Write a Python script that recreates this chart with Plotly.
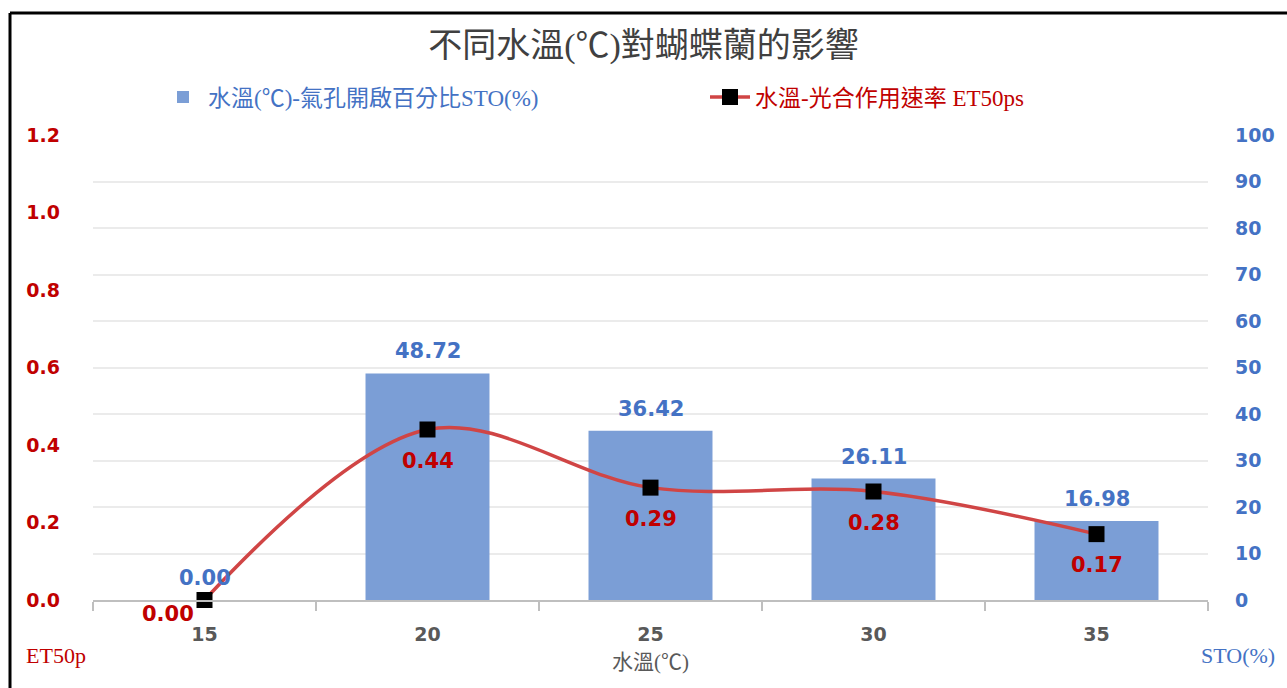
import plotly.graph_objects as go

categories = ["15", "20", "25", "30", "35"]
sto_values = [0.00, 48.72, 36.42, 26.11, 16.98]
et50_values = [0.00, 0.44, 0.29, 0.28, 0.17]
left_ticks = [0.0, 0.2, 0.4, 0.6, 0.8, 1.0, 1.2]
right_ticks = [0, 10, 20, 30, 40, 50, 60, 70, 80, 90, 100]

title_text = "不同水溫(℃)對蝴蝶蘭的影響"
bar_name = "水溫(℃)-氣孔開啟百分比STO(%)"
line_name = "水溫-光合作用速率 ET50ps"
x_title = "水溫(℃)"
left_title = "ET50p"
right_title = "STO(%)"

BLUE = "#4472C4"
RED = "#C00000"
BAR = "#7B9ED6"
LINE = "#D04545"
SERIF = "Liberation Serif, Noto Sans CJK TC, serif"
SANS = "DejaVu Sans, Verdana, sans-serif"

W, H = 1287, 688
L, R, T, B = 93, 1208, 135, 600

def px(x):
    return (x - L) / (R - L)

def py(y):
    return (B - y) / (B - T)

fig = go.Figure()

fig.add_trace(go.Bar(
    x=categories, y=sto_values, yaxis="y",
    name=f'<span style="color:{BLUE}">{bar_name}</span>',
    marker=dict(color=BAR, line=dict(width=0)),
    width=0.556,
    cliponaxis=False,
))

fig.add_trace(go.Scatter(
    x=categories, y=et50_values, yaxis="y2",
    name=f'<span style="color:{RED}">{line_name}</span>',
    mode="lines+markers",
    line=dict(color=LINE, width=3.5, shape="spline", smoothing=1.0),
    marker=dict(symbol="square", size=16, color="black"),
    cliponaxis=False,
))

annotations = []
for i, v in enumerate(sto_values):
    annotations.append(dict(
        text=f"{v:.2f}", x=i, y=v, xref="x", yref="y",
        yshift=22, showarrow=False, xanchor="center", yanchor="middle",
        font=dict(family=SANS, size=21, color=BLUE, weight="bold"),
    ))
for i, v in enumerate(et50_values):
    annotations.append(dict(
        text=f"{v:.2f}", x=i, y=v, xref="x", yref="y2",
        xshift=-37 if i == 0 else 0, yshift=-14 if i == 0 else -31,
        showarrow=False, xanchor="center", yanchor="middle",
        font=dict(family=SANS, size=21, color=RED, weight="bold"),
    ))

annotations += [
    dict(text=x_title, xref="paper", yref="paper", x=px(650), y=py(662),
         xanchor="center", yanchor="middle", showarrow=False,
         font=dict(family=SERIF, size=21, color="#595959")),
    dict(text=left_title, xref="paper", yref="paper", x=px(24), y=py(655),
         xanchor="left", yanchor="middle", showarrow=False,
         font=dict(family=SERIF, size=22, color=RED)),
    dict(text=right_title, xref="paper", yref="paper", x=px(1199), y=py(655),
         xanchor="left", yanchor="middle", showarrow=False,
         font=dict(family=SERIF, size=22, color=BLUE)),
]

fig.update_layout(
    width=W, height=H,
    margin=dict(l=L, r=W - R, t=T, b=H - B, pad=0),
    paper_bgcolor="white", plot_bgcolor="white",
    title=dict(
        text=title_text, x=0.5, xanchor="center",
        y=1 - 45 / H, yanchor="middle",
        font=dict(family=SERIF, size=34, color="#404040"),
    ),
    legend=dict(
        orientation="h", x=px(158), xanchor="left",
        y=py(97), yanchor="middle",
        font=dict(family=SERIF, size=23),
        bgcolor="rgba(0,0,0,0)",
        itemwidth=40, entrywidth=492, entrywidthmode="pixels",
        traceorder="normal",
    ),
    xaxis=dict(
        type="category", range=[-0.5, 4.5],
        showline=True, linecolor="#BFBFBF", linewidth=1.5,
        ticks="outside", tickson="boundaries", ticklen=9, tickcolor="#BFBFBF",
        tickwidth=1.5,
        tickfont=dict(family=SANS, size=19, color="#595959", weight="bold"),
        ticklabelstandoff=16,
        showgrid=False,
    ),
    yaxis=dict(
        side="right", range=[0, 100], tickvals=right_ticks,
        showgrid=True, gridcolor="#EBEBEB", gridwidth=1.5,
        zeroline=False, showline=False,
        tickfont=dict(family=SANS, size=19, color=BLUE, weight="bold"),
        ticklabelstandoff=26,
    ),
    yaxis2=dict(
        side="left", overlaying="y", range=[0, 1.2], tickvals=left_ticks,
        tickformat=".1f",
        showgrid=False, zeroline=False, showline=False,
        tickfont=dict(family=SANS, size=19, color=RED, weight="bold"),
        ticklabelstandoff=32,
    ),
    annotations=annotations,
    shapes=[
        dict(type="line", xref="paper", yref="paper", x0=px(10), x1=px(W + 5),
             y0=py(13), y1=py(13), line=dict(color="black", width=3)),
        dict(type="line", xref="paper", yref="paper", x0=px(10), x1=px(10),
             y0=py(13), y1=py(H + 5), line=dict(color="black", width=3)),
    ],
)

fig.write_html("out.html")
